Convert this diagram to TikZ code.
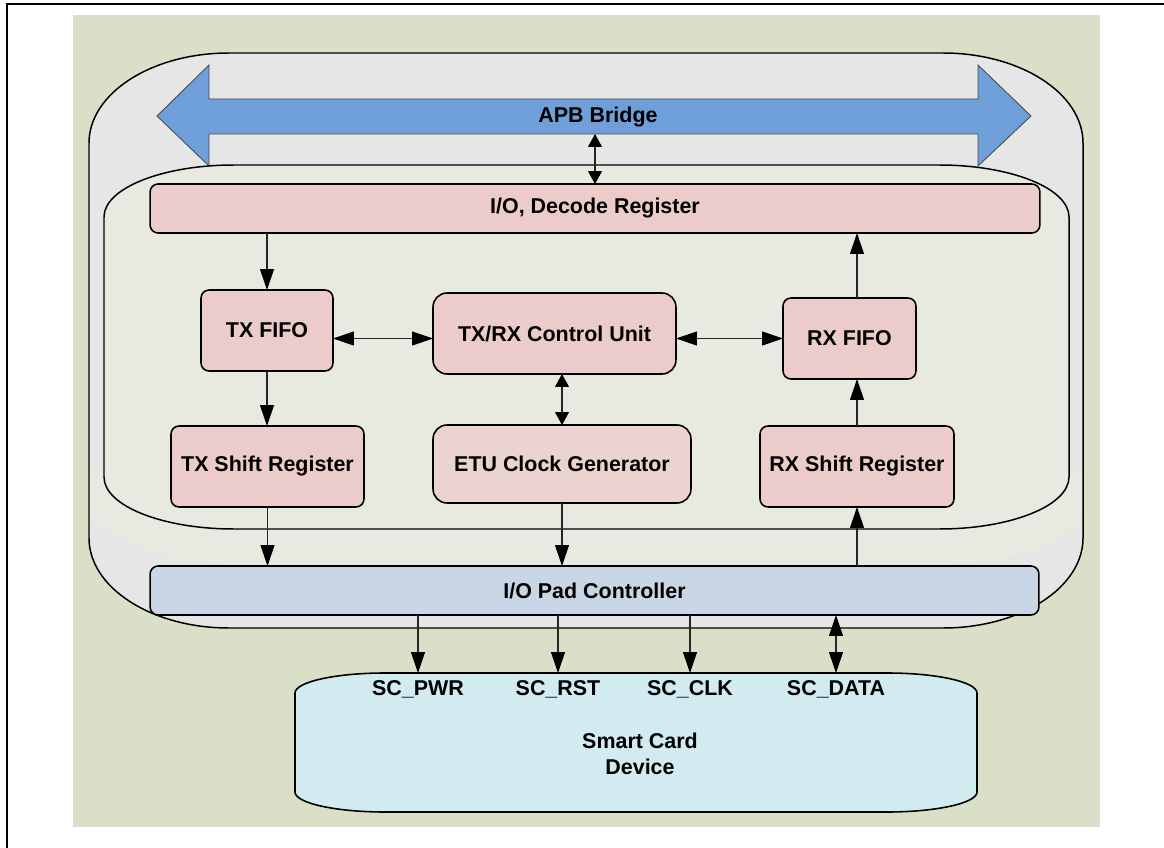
\documentclass[tikz,border=0pt]{standalone}
\usepackage{fontspec}
\setmainfont{Liberation Sans}
\usetikzlibrary{arrows.meta}

% rectangle with elliptical corners: style, x1, y1, x2, y2, rx, ry
\newcommand{\ovalpath}[7]{%
  \path[#1] ({#2},{#3+#7}) .. controls ({#2},{#3+0.448*#7}) and ({#2+0.448*#6},{#3}) .. ({#2+#6},{#3})
    -- ({#4-#6},{#3}) .. controls ({#4-0.448*#6},{#3}) and ({#4},{#3+0.448*#7}) .. ({#4},{#3+#7})
    -- ({#4},{#5-#7}) .. controls ({#4},{#5-0.448*#7}) and ({#4-0.448*#6},{#5}) .. ({#4-#6},{#5})
    -- ({#2+#6},{#5}) .. controls ({#2+0.448*#6},{#5}) and ({#2},{#5-0.448*#7}) .. ({#2},{#5-#7}) -- cycle;}

\begin{document}
\begin{tikzpicture}[x=0.02cm, y=-0.02cm,
    every node/.style={font=\bfseries\fontsize{12.2}{14.8}\selectfont, inner sep=0pt, outer sep=0pt},
    regbox/.style={draw=black, line width=0.9pt, fill=regFill, rounded corners=1.6mm, align=center},
    link/.style={draw=black!85, line width=0.6pt, -{Triangle[length=4.2mm,width=2.8mm,color=black]}},
    dlink/.style={link, {Triangle[length=4.2mm,width=2.8mm,color=black]}-{Triangle[length=4.2mm,width=2.8mm,color=black]}},
    sdlink/.style={link, {Triangle[length=2.6mm,width=2.8mm,color=black]}-{Triangle[length=2.6mm,width=2.8mm,color=black]}}]
    \def\u{0.2mm}

    \definecolor{bgFill}{HTML}{DADFC8}
    \definecolor{outerFill}{HTML}{E6E6E6}
    \definecolor{innerFill}{HTML}{E8E9E0}
    \definecolor{regFill}{HTML}{ECCCCB}
    \definecolor{etuFill}{HTML}{EBD4D0}
    \definecolor{padFill}{HTML}{C9D6E5}
    \definecolor{cardFill}{HTML}{D2EBF0}
    \definecolor{apbFill}{HTML}{6F9FD8}

    \useasboundingbox (0,0) rectangle (1164,848);

    % Frame and background
    \draw[line width=1pt] (7,848) -- (7,4) -- (1164,4);
    \fill[bgFill] (73,15) rectangle (1100,827);

    % Outer block with its light glow
    \ovalpath{fill=outerFill}{89}{53}{1083}{628}{140}{90}
    \fill[innerFill] (89,470) -- (89,517) .. controls (125,548) and (170,562) .. (240,566)
        -- (940,566) .. controls (1010,562) and (1060,548) .. (1083,517) -- (1083,470) -- cycle;
    \ovalpath{draw=black, line width=0.85pt}{89}{53}{1083}{628}{140}{90}

    % APB bridge
    \filldraw[fill=apbFill, draw=black!70, line width=0.5pt]
        (157,116) -- (209,65) -- (209,99) -- (978,99) -- (978,65) -- (1031,116)
        -- (978,166) -- (978,134) -- (209,134) -- (209,166) -- cycle;
    \node (apb) at (598,117) {APB Bridge};
    \coordinate (apbS) at (595,134);

    % Inner block
    \ovalpath{fill=innerFill, draw=black, line width=0.85pt}{104}{165}{1069}{529}{130}{52}

    % Registers
    \node[regbox, minimum width=890*\u, minimum height=49*\u] (dec) at (595,208.5) {I/O, Decode Register};
    \node[regbox, minimum width=132*\u, minimum height=81*\u] (txfifo) at (267,330.5) {TX FIFO};
    \node[regbox, minimum width=193*\u, minimum height=81*\u] (txsh) at (267.5,466.5) {TX Shift Register};
    \node[regbox, rounded corners=2.8mm, minimum width=243*\u, minimum height=81*\u] (ctrl) at (554.5,333.5) {TX/RX Control Unit};
    \node[regbox, fill=etuFill, rounded corners=2.8mm, minimum width=258*\u, minimum height=78*\u] (etu) at (562,464) {ETU Clock Generator};
    \node[regbox, minimum width=133*\u, minimum height=81*\u] (rxfifo) at (849.5,338.5) {RX FIFO};
    \node[regbox, minimum width=194*\u, minimum height=81*\u] (rxsh) at (857,466.5) {RX Shift Register};
    \node[regbox, fill=padFill, minimum width=889*\u, minimum height=49*\u] (pad) at (594.5,590.5) {I/O Pad Controller};

    % Smart card
    \ovalpath{fill=cardFill, draw=black, line width=0.9pt}{295}{673}{977}{812}{90}{20}
    \node[anchor=north, inner ysep=8*\u] (pwr) at (418,673) {SC\_PWR};
    \node[anchor=north, inner ysep=8*\u] (rst) at (558,673) {SC\_RST};
    \node[anchor=north, inner ysep=8*\u] (clk) at (690,673) {SC\_CLK};
    \node[anchor=north, inner ysep=8*\u] (data) at (836,673) {SC\_DATA};
    \node[align=center] (card) at (640,754) {Smart Card\\Device};

    % Connectors
    \draw[sdlink] (apbS) -- (apbS |- dec.north);
    \draw[link] (dec.south -| txfifo.north) -- (txfifo.north);
    \draw[link] (txfifo.south) -- (txfifo.south |- txsh.north);
    \draw[link] (txsh.south) -- (txsh.south |- pad.north);
    \draw[dlink] (txfifo.east |- rxfifo.west) -- (ctrl.west |- rxfifo.west);
    \draw[dlink] (ctrl.east |- rxfifo.west) -- (rxfifo.west);
    \draw[sdlink] (etu.north) -- (etu.north |- ctrl.south);
    \draw[link] (etu.south) -- (etu.south |- pad.north);
    \draw[link] (rxsh.north) -- (rxsh.north |- rxfifo.south);
    \draw[link] (rxsh.north |- rxfifo.north) -- (rxsh.north |- dec.south);
    \draw[link] (pad.north -| rxsh.south) -- (rxsh.south);
    \foreach \n in {pwr,rst,clk}
        \draw[link] (\n.north |- pad.south) -- (\n.north);
    \draw[dlink] (data.north |- pad.south) -- (data.north);

\end{tikzpicture}
\end{document}
